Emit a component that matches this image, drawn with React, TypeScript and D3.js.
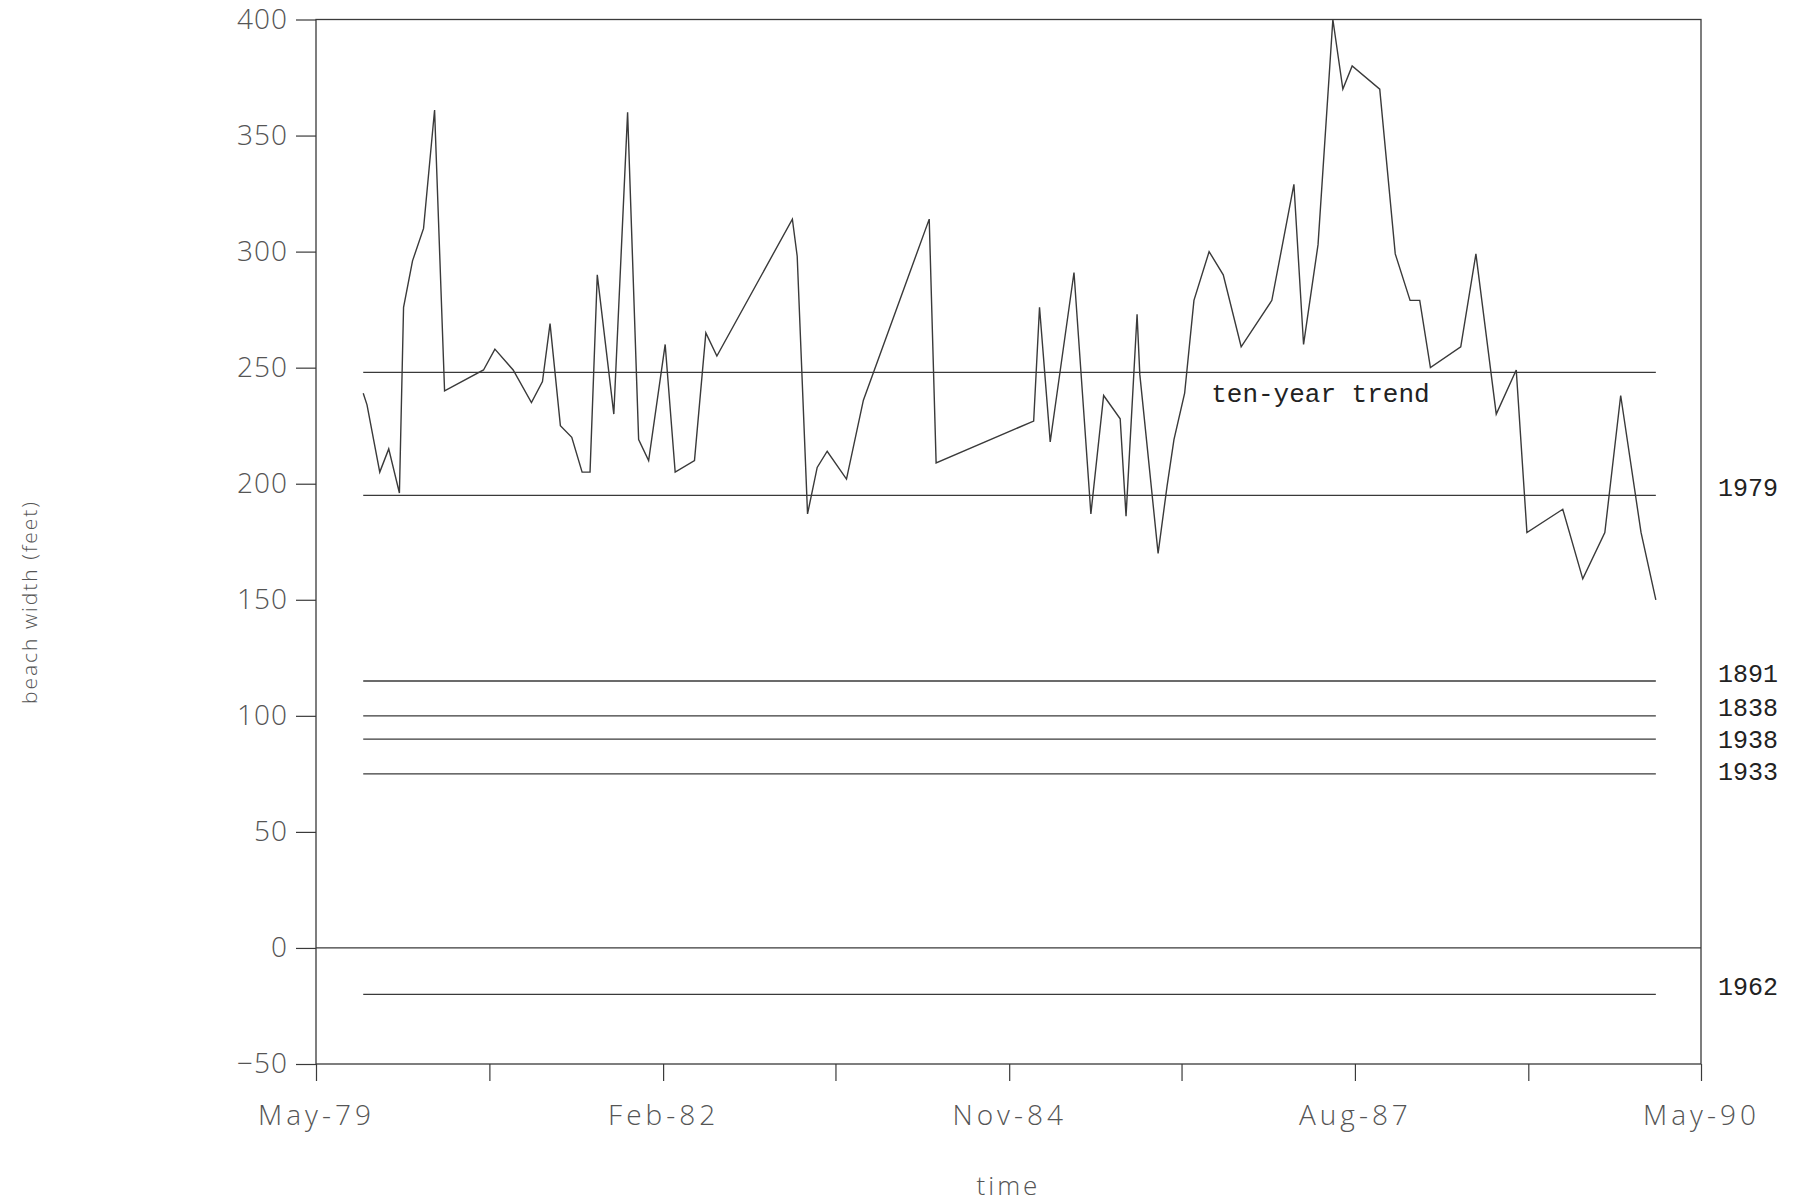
import React, { useEffect, useRef } from 'react';
import * as d3 from 'd3';

// survey dates and measured beach width (feet)
const surveyDates = [
  '1979-09-15', '1979-09-26', '1979-11-02', '1979-11-28', '1979-12-29',
  '1980-01-10', '1980-02-05', '1980-03-08', '1980-04-09', '1980-05-08',
  '1980-08-29', '1980-10-01', '1980-11-23', '1981-01-15', '1981-02-16',
  '1981-03-10', '1981-04-09', '1981-05-12', '1981-06-11', '1981-07-04',
  '1981-07-25', '1981-09-11', '1981-10-21', '1981-11-22', '1981-12-21',
  '1982-02-07', '1982-03-08', '1982-05-03', '1982-06-05', '1982-07-07',
  '1983-02-11', '1983-02-25', '1983-03-27', '1983-04-24', '1983-05-23',
  '1983-07-18', '1983-09-05', '1984-03-14', '1984-04-03', '1985-01-11',
  '1985-01-28', '1985-02-28', '1985-05-08', '1985-06-26', '1985-08-02',
  '1985-09-19', '1985-10-06', '1985-11-07', '1985-11-15', '1986-01-07',
  '1986-02-02', '1986-02-22', '1986-03-25', '1986-04-21', '1986-06-04',
  '1986-07-15', '1986-09-05', '1986-12-03', '1987-02-05', '1987-03-05',
  '1987-04-16', '1987-05-29', '1987-06-27', '1987-07-24', '1987-10-12',
  '1987-11-26', '1988-01-08', '1988-02-05', '1988-03-07', '1988-06-03',
  '1988-07-17', '1988-09-14', '1988-11-11', '1988-12-12', '1989-03-26',
  '1989-05-23', '1989-07-26', '1989-09-10', '1989-11-08', '1989-12-21',
];

const beachWidth = [
  239, 234, 205, 215, 196,
  276, 296, 310, 361, 240,
  249, 258, 249, 235, 244,
  269, 225, 220, 205, 205,
  290, 230, 360, 219, 210,
  260, 205, 210, 265, 255,
  314, 298, 187, 207, 214,
  202, 236, 314, 209, 227,
  276, 218, 291, 187, 238,
  228, 186, 273, 247, 170,
  199, 219, 239, 279, 300,
  290, 259, 279, 329, 260,
  303, 400, 370, 380, 370,
  299, 279, 279, 250, 259,
  299, 230, 249, 179, 189,
  159, 179, 238, 179, 150,
];

// reference shoreline widths
const refLabels = ['ten-year trend', '1979', '1891', '1838', '1938', '1933', '1962'];
const refValues = [248, 195, 115, 100, 90, 75, -20];

const yTicks = [-50, 0, 50, 100, 150, 200, 250, 300, 350, 400];
const xTickDates = [
  '1979-05-01', '1980-09-15', '1982-02-01', '1983-06-16', '1984-11-01',
  '1986-03-16', '1987-08-01', '1988-12-16', '1990-05-01',
];
const xTickLabels = ['May-79', '', 'Feb-82', '', 'Nov-84', '', 'Aug-87', '', 'May-90'];

const trendLabelDate = '1986-06-10';

export default function App() {
  const svgRef = useRef<SVGSVGElement>(null);

  useEffect(() => {
    if (!svgRef.current) return;
    const svg = d3.select(svgRef.current);
    svg.selectAll('*').remove();

    const margin = { top: 19.5, right: 99, bottom: 138, left: 316 };
    const width = 1800;
    const height = 1202;
    const ink = '#3a3a3a';
    const sans = '"Open Sans", "DejaVu Sans", sans-serif';
    const mono = '"Liberation Mono", "DejaVu Sans Mono", monospace';

    const parse = d3.timeParse('%Y-%m-%d');
    const data = surveyDates.map((d, i) => ({ date: parse(d) as Date, value: beachWidth[i] }));

    const x = d3.scaleTime()
      .domain([parse(xTickDates[0]) as Date, parse(xTickDates[xTickDates.length - 1]) as Date])
      .range([margin.left, width - margin.right]);

    const y = d3.scaleLinear()
      .domain([yTicks[0], yTicks[yTicks.length - 1]])
      .range([height - margin.bottom, margin.top]);

    // frame
    svg.append('rect')
      .attr('x', x.range()[0])
      .attr('y', y(400))
      .attr('width', x.range()[1] - x.range()[0])
      .attr('height', y(-50) - y(400))
      .attr('fill', 'none')
      .attr('stroke', ink)
      .attr('stroke-width', 1.3);

    // left axis
    const yAxis = svg.append('g')
      .attr('transform', `translate(${margin.left},0)`)
      .call(d3.axisLeft(y).tickValues(yTicks).tickSize(20).tickSizeOuter(0).tickPadding(8)
        .tickFormat(d => (d as number) < 0 ? `\u2212${Math.abs(d as number)}` : `${d}`));
    yAxis.select('.domain').remove();
    yAxis.selectAll('line').attr('stroke', ink).attr('stroke-width', 1.2);
    yAxis.selectAll('text')
      .attr('fill', '#555')
      .style('font-family', sans)
      .style('font-weight', 300)
      .style('font-size', '28px')
      .style('letter-spacing', '1px');

    // bottom axis
    const xAxis = svg.append('g')
      .attr('transform', `translate(0,${y(-50)})`)
      .call(d3.axisBottom(x)
        .tickValues(xTickDates.map(d => parse(d) as Date))
        .tickSize(17).tickSizeOuter(0).tickPadding(24)
        .tickFormat((_, i) => xTickLabels[i]));
    xAxis.select('.domain').remove();
    xAxis.selectAll('line').attr('stroke', ink).attr('stroke-width', 1.2);
    xAxis.selectAll('text')
      .attr('fill', '#555')
      .style('font-family', sans)
      .style('font-weight', 300)
      .style('font-size', '28px')
      .style('letter-spacing', '4px');

    // zero line across the full axis
    svg.append('line')
      .attr('x1', x.range()[0])
      .attr('x2', x.range()[1])
      .attr('y1', y(0))
      .attr('y2', y(0))
      .attr('stroke', ink)
      .attr('stroke-width', 1.3);

    // reference lines over the survey period
    const [d0, d1] = d3.extent(data, d => d.date) as [Date, Date];
    svg.selectAll('.ref')
      .data(refValues)
      .enter()
      .append('line')
      .attr('class', 'ref')
      .attr('x1', x(d0))
      .attr('x2', x(d1))
      .attr('y1', d => y(d))
      .attr('y2', d => y(d))
      .attr('stroke', ink)
      .attr('stroke-width', 1.3);

    // reference labels, stacked so they don't overlap
    let lastY = -Infinity;
    const labelPos = refValues.slice(1).map(v => {
      let ly = y(v) - 6;
      if (ly - lastY < 32) ly = lastY + 32;
      lastY = ly;
      return ly;
    });
    svg.selectAll('.ref-label')
      .data(refLabels.slice(1))
      .enter()
      .append('text')
      .attr('class', 'ref-label')
      .attr('x', x.range()[1] + 17)
      .attr('y', (_, i) => labelPos[i])
      .attr('dominant-baseline', 'central')
      .attr('fill', '#222')
      .style('font-family', mono)
      .style('font-size', '25px')
      .text(d => d);

    svg.append('text')
      .attr('x', x(parse(trendLabelDate) as Date))
      .attr('y', y(refValues[0]) + 23)
      .attr('dominant-baseline', 'central')
      .attr('fill', '#222')
      .style('font-family', mono)
      .style('font-size', '26px')
      .text(refLabels[0]);

    // beach width series
    const line = d3.line<{ date: Date; value: number }>()
      .x(d => x(d.date))
      .y(d => y(d.value));

    svg.append('path')
      .datum(data)
      .attr('fill', 'none')
      .attr('stroke', ink)
      .attr('stroke-width', 1.4)
      .attr('stroke-linejoin', 'miter')
      .attr('d', line);

    // axis titles
    svg.append('text')
      .attr('x', (x.range()[0] + x.range()[1]) / 2)
      .attr('y', 1185)
      .attr('text-anchor', 'middle')
      .attr('dominant-baseline', 'central')
      .attr('fill', '#555')
      .style('font-family', sans)
      .style('font-weight', 300)
      .style('font-size', '26px')
      .style('letter-spacing', '3px')
      .text('time');

    svg.append('text')
      .attr('transform', `translate(29,602) rotate(-90)`)
      .attr('text-anchor', 'middle')
      .attr('dominant-baseline', 'central')
      .attr('fill', '#555')
      .style('font-family', sans)
      .style('font-weight', 300)
      .style('font-size', '21px')
      .style('letter-spacing', '2px')
      .text('beach width (feet)');
  }, []);

  return (
    <svg
      ref={svgRef}
      width={1800}
      height={1202}
      style={{ position: 'absolute', left: 0, top: 0, background: '#fff', display: 'block' }}
    />
  );
}
